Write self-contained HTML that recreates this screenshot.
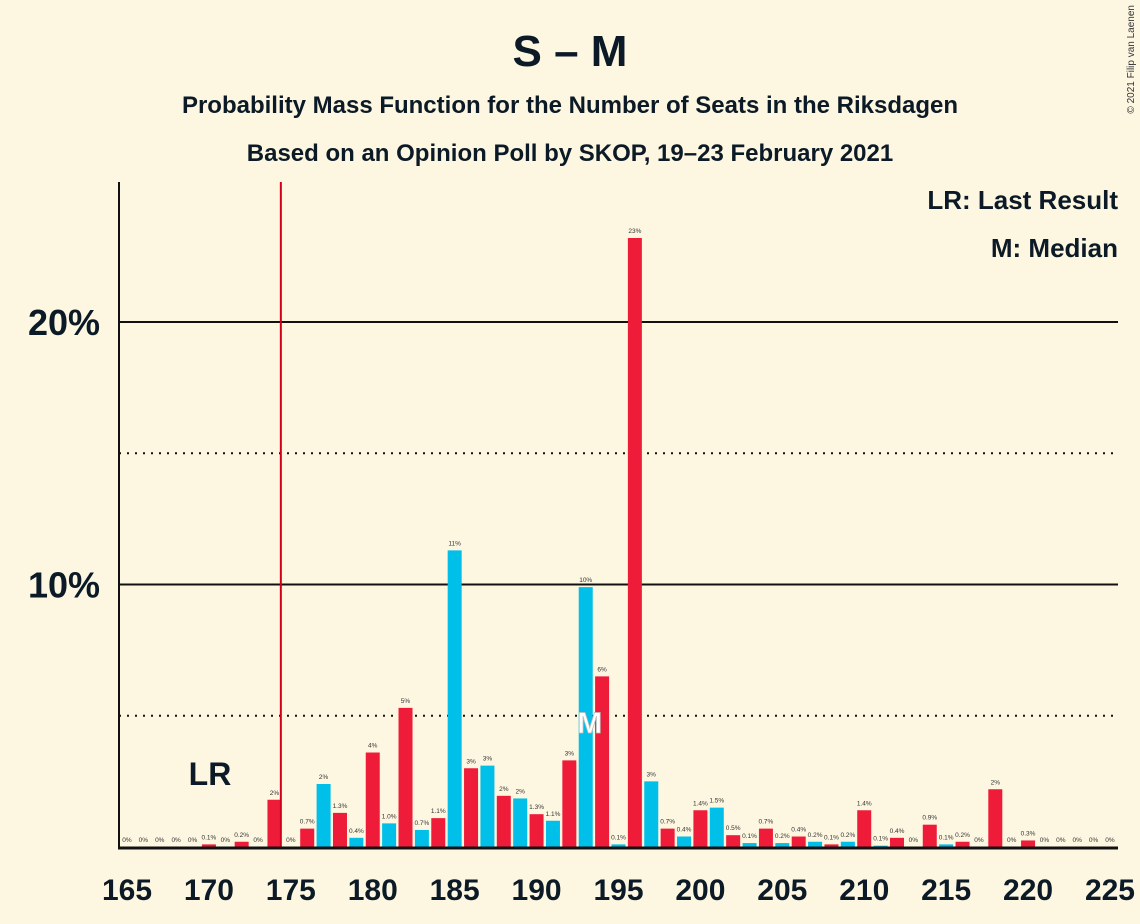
<!DOCTYPE html>
<html><head><meta charset="utf-8"><style>
body{margin:0;background:#fdf7e1;}
svg{display:block;font-family:"Liberation Sans",sans-serif;}
</style></head><body>
<svg id="c" width="1140" height="924" viewBox="0 0 1140 924">
<rect width="1140" height="924" fill="#fdf7e1"/>
<text x="570" y="66" text-anchor="middle" font-size="44" font-weight="bold" fill="#0b1a26">S – M</text>
<text x="570" y="113" text-anchor="middle" font-size="24" font-weight="bold" fill="#0b1a26">Probability Mass Function for the Number of Seats in the Riksdagen</text>
<text x="570" y="161" text-anchor="middle" font-size="24" font-weight="bold" fill="#0b1a26">Based on an Opinion Poll by SKOP, 19–23 February 2021</text>
<text x="1134" y="5" transform="rotate(-90 1134 5)" text-anchor="end" font-size="10" fill="#333">© 2021 Filip van Laenen</text>
<text x="1118" y="209" text-anchor="end" font-size="26" font-weight="bold" fill="#0b1a26">LR: Last Result</text>
<text x="1118" y="257" text-anchor="end" font-size="26" font-weight="bold" fill="#0b1a26">M: Median</text>
<g id="grid"></g><g id="bars"></g><g id="axes"></g>
</svg>
<script>
const seats=[];for(let s=165;s<=225;s++)seats.push(s);
const probs=[0,0,0,0,0,0.1,0,0.2,0,1.8,0,0.7,2.4,1.3,0.35,3.6,0.9,5.3,0.65,1.1,11.3,3.0,3.1,1.95,1.85,1.25,1.0,3.3,9.9,6.5,0.1,23.2,2.5,0.7,0.4,1.4,1.5,0.45,0.15,0.7,0.15,0.4,0.2,0.1,0.2,1.4,0.05,0.35,0,0.85,0.1,0.2,0,2.2,0,0.25,0,0,0,0,0];
const valueLabels=["0%","0%","0%","0%","0%","0.1%","0%","0.2%","0%","2%","0%","0.7%","2%","1.3%","0.4%","4%","1.0%","5%","0.7%","1.1%","11%","3%","3%","2%","2%","1.3%","1.1%","3%","10%","6%","0.1%","23%","3%","0.7%","0.4%","1.4%","1.5%","0.5%","0.1%","0.7%","0.2%","0.4%","0.2%","0.1%","0.2%","1.4%","0.1%","0.4%","0%","0.9%","0.1%","0.2%","0%","2%","0%","0.3%","0%","0%","0%","0%","0%"];
const xTicks=[165,170,175,180,185,190,195,200,205,210,215,220,225];
const yMajor=[10,20];const yMinor=[5,15];
const lastResult=175, median=193;
const NS="http://www.w3.org/2000/svg";
const X=s=>127+(s-165)*16.383, Y=p=>847-p*26.25;
function mk(t,a,p){const e=document.createElementNS(NS,t);for(const k in a)e.setAttribute(k,a[k]);p.appendChild(e);return e;}
const g=document.getElementById('grid'),b=document.getElementById('bars'),ax=document.getElementById('axes');
yMinor.forEach(v=>{const l=mk('line',{x1:119,x2:1118,y1:Y(v),y2:Y(v),stroke:'#111','stroke-width':2,'stroke-dasharray':'2,6'},g);

});
yMajor.forEach(v=>{const l=mk('line',{x1:119,x2:1118,y1:Y(v),y2:Y(v),stroke:'#111','stroke-width':2},g);


const t=mk('text',{x:100,y:Y(v)+13,'text-anchor':'end','font-size':36,'font-weight':'bold',fill:'#0b1a26'},ax);t.textContent=v+'%';

});
seats.forEach((s,i)=>{const p=probs[i];const x=X(s);
const r=mk('rect',{x:x-7,y:Y(p),width:14,height:847-Y(p),fill:s%2?'#00bfe9':'#ef1c39'},b);


const t=mk('text',{x:x,y:Y(p)-5,'text-anchor':'middle','font-size':6.5,fill:'#333'},b);t.textContent=valueLabels[i];

});
const lr=mk('line',{x1:X(lastResult)-10,x2:X(lastResult)-10,y1:182,y2:847,stroke:'#d0001a','stroke-width':2},ax);


const lrt=mk('text',{x:210,y:785,'text-anchor':'middle','font-size':32,'font-weight':'bold',fill:'#0b1a26'},ax);lrt.textContent='LR';


const mt=mk('text',{x:X(median)+4,y:733,'text-anchor':'middle','font-size':30,'font-weight':'bold',fill:'#fff',stroke:'#bbb','stroke-width':0.8},ax);mt.textContent='M';


const ya=mk('line',{x1:119,x2:119,y1:182,y2:848,stroke:'#111','stroke-width':2},ax);


const xa=mk('line',{x1:118,x2:1118,y1:848,y2:848,stroke:'#111','stroke-width':3},ax);


xTicks.forEach(s=>{const t=mk('text',{x:X(s),y:900,'text-anchor':'middle','font-size':30,'font-weight':'bold',fill:'#0b1a26'},ax);t.textContent=s;

});
</script>
</body></html>
